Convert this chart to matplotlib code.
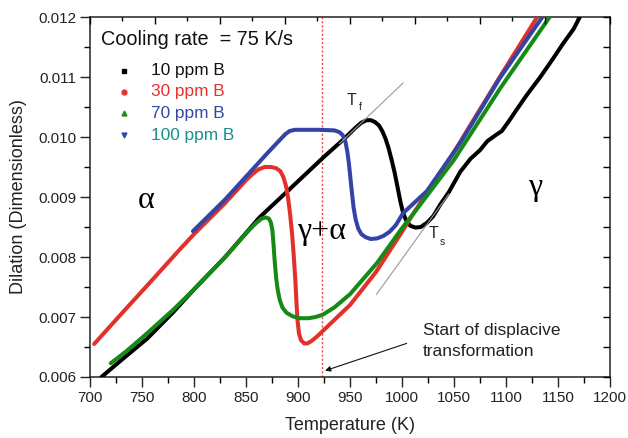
import matplotlib
matplotlib.use("Agg")
import matplotlib.pyplot as plt
from matplotlib.ticker import MultipleLocator, FormatStrFormatter
import numpy as np

plt.rcParams['font.family'] = ['Liberation Sans', 'DejaVu Sans']

# ---- data ----
T_10 = [711, 730, 755, 780, 800, 830, 863, 895, 925, 945, 955, 961, 966, 970, 974, 978,
        981, 984, 987, 990, 993, 996, 998.5, 1001, 1004, 1008, 1013, 1018, 1024, 1030,
        1037, 1045, 1056, 1066, 1075, 1082, 1090, 1096, 1103, 1110, 1120, 1133, 1145,
        1155, 1165, 1171]
D_10 = [0.00600, 0.00628, 0.00664, 0.00708, 0.00746, 0.00800, 0.00866, 0.00918, 0.00967,
        0.00998, 0.01015, 0.01024, 0.01028, 0.01028, 0.01025, 0.01019, 0.01010, 0.00998,
        0.00982, 0.00962, 0.00940, 0.00914, 0.00892, 0.00874, 0.00861, 0.00852, 0.00849,
        0.00850, 0.00857, 0.00868, 0.00888, 0.00908, 0.00942, 0.00964, 0.00978, 0.00993,
        0.01003, 0.01010, 0.01027, 0.01045, 0.01070, 0.01100, 0.01130, 0.01156, 0.01180,
        0.01200]

T_30 = [704, 730, 760, 786, 800, 830, 850, 856, 862, 868, 874, 879, 883, 886, 888.5,
        890.5, 892.5, 894.5, 896, 897.5, 898.5, 899.5, 901, 903, 906, 909, 913, 918, 924,
        950, 975, 1000, 1010, 1050, 1094, 1130]
D_30 = [0.00655, 0.00705, 0.00762, 0.00812, 0.00838, 0.00890, 0.00928, 0.00938, 0.00946,
        0.00950, 0.00950, 0.00948, 0.00943, 0.00933, 0.00918, 0.00898, 0.00870, 0.00835,
        0.00800, 0.00760, 0.00725, 0.00695, 0.00672, 0.00661, 0.00656, 0.00656, 0.00660,
        0.00667, 0.00677, 0.00720, 0.00775, 0.00842, 0.00870, 0.00975, 0.01100, 0.01200]

T_70 = [799, 830, 850, 870, 883, 888, 892, 897, 920, 935, 940, 943, 945.5, 947.5, 949,
        950.5, 952, 953.5, 955.5, 958, 961, 965, 970, 976, 982, 988, 994, 1001, 1024,
        1056, 1094, 1135]
D_70 = [0.00843, 0.00896, 0.00934, 0.00972, 0.00996, 0.01005, 0.01010, 0.01012, 0.01012,
        0.01011, 0.01008, 0.01003, 0.00993, 0.00975, 0.00955, 0.00930, 0.00905, 0.00882,
        0.00862, 0.00847, 0.00838, 0.00833, 0.00830, 0.00831, 0.00835, 0.00842, 0.00853,
        0.00873, 0.00910, 0.00990, 0.01098, 0.01200]

T_100 = [720, 735, 755, 780, 800, 830, 853, 860, 865, 869, 872, 874, 875.5, 876.5, 877.5,
         879, 880.5, 882.5, 885, 889, 895, 902, 910, 917, 924, 935, 950, 976, 1000, 1010,
         1050, 1094, 1142]
D_100 = [0.00623, 0.00643, 0.00673, 0.00712, 0.00746, 0.00800, 0.00845, 0.00857, 0.00864,
         0.00866, 0.00864, 0.00857, 0.00843, 0.00820, 0.00795, 0.00765, 0.00745, 0.00728,
         0.00716, 0.00707, 0.00701, 0.00698, 0.00698, 0.00700, 0.00704, 0.00716, 0.00738,
         0.00790, 0.00848, 0.00870, 0.00962, 0.01080, 0.01200]

tf_T = [940, 1001]
tf_D = [0.00989, 0.01090]
ts_T = [975.6, 1045]
ts_D = [0.00738, 0.00905]
T_start = 923.5

legend_labels = ['10 ppm B', '30 ppm B', '70 ppm B', '100 ppm B']
legend_text_colors = ['#111111', '#e8302a', '#3546a6', '#178f8c']
legend_marker_colors = ['#000000', '#e8302a', '#1a8a1a', '#3546a6']
legend_markers = ['s', 'o', '^', 'v']

# ---- figure ----
fig = plt.figure(figsize=(6.28, 4.38), dpi=100)
ax = fig.add_axes([90/628, 1-377/438, 520/628, 360/438])

lw = 2.9
kw = dict(lw=lw, solid_capstyle='round', solid_joinstyle='round', zorder=3)
ax.plot(T_10, D_10, color='#000000', **kw)
ax.plot(T_30, D_30, color='#e3302a', **kw)
ax.plot(T_70, D_70, color='#3344a6', **kw)
ax.plot(T_100, D_100, color='#168a16', **kw)

ax.plot(tf_T, tf_D, color='#9a9a9a', lw=0.8, zorder=4)
ax.plot(ts_T, ts_D, color='#9a9a9a', lw=0.8, zorder=4)
ax.axvline(T_start, color='#ee4444', lw=1.0, ls=(0, (1.5, 1.5)), zorder=2)

ax.set_xlim(700, 1200)
ax.set_ylim(0.006, 0.012)
ax.xaxis.set_major_locator(MultipleLocator(50))
ax.xaxis.set_minor_locator(MultipleLocator(25))
ax.yaxis.set_major_locator(MultipleLocator(0.001))
ax.yaxis.set_minor_locator(MultipleLocator(0.0005))
ax.yaxis.set_major_formatter(FormatStrFormatter('%.3f'))
ax.tick_params(which='major', direction='out', length=7, width=1.0, labelsize=11,
               colors='#222222', pad=3)
ax.tick_params(which='minor', direction='out', length=4, width=1.0)
for s in ax.spines.values():
    s.set_linewidth(1.1)
    s.set_color('#222222')

# top and right mirrored ticks (inward)
axt = ax.twiny()
axt.set_xlim(700, 1200)
axt.set_xticks(np.arange(700, 1200.1, 62.5))
axt.set_xticks(np.arange(700, 1200.1, 31.25), minor=True)
axt.tick_params(which='major', direction='in', length=5, width=1.0, labeltop=False)
axt.tick_params(which='minor', direction='in', length=3, width=1.0)
axr = ax.twinx()
axr.set_ylim(0.006, 0.012)
axr.set_yticks(np.arange(0.006, 0.01201, 0.0005))
axr.tick_params(which='major', direction='in', length=5, width=1.0, labelright=False)
for a in (axt, axr):
    for s in a.spines.values():
        s.set_visible(False)

ax.set_xlabel('Temperature (K)', fontsize=13, color='#222222', labelpad=9)
ax.set_ylabel('Dilation (Dimensionless)', fontsize=13, color='#222222', labelpad=8)

# legend-like block
ax.text(711, 0.011617, 'Cooling rate  = 75 K/s', fontsize=14.3, va='center', ha='left',
        color='#111111')
leg_D = [0.011105, 0.010755, 0.010395, 0.010033]
for lab, tc, mc, mk, d in zip(legend_labels, legend_text_colors, legend_marker_colors,
                              legend_markers, leg_D):
    ax.plot([733], [d], marker=mk, color=mc, ms=3.5, ls='none', zorder=5)
    ax.text(758.7, d, lab, fontsize=12.4, va='center', ha='left', color=tc)

serif = ['Liberation Serif', 'DejaVu Serif']
ax.text(746, 0.00882, 'α', fontsize=23, family=serif, va='baseline', ha='left')
ax.text(898.7, 0.00830, 'γ+α', fontsize=23, family=serif, va='baseline', ha='left')
ax.text(1128.4, 0.00903, 'γ', fontsize=23, family=serif, va='baseline', ha='center')

ax.text(946.8, 0.010533, 'T', fontsize=11.5, va='baseline', ha='left', color='#222222')
ax.text(958.2, 0.01045, 'f', fontsize=7.5, va='baseline', ha='left', color='#222222')
ax.text(1025.3, 0.008312, 'T', fontsize=11.5, va='baseline', ha='left', color='#222222')
ax.text(1036.5, 0.00820, 's', fontsize=7.5, va='baseline', ha='left', color='#222222')

ax.annotate('', xy=(926, 0.006105), xytext=(1004.5, 0.00656),
            arrowprops=dict(arrowstyle='-|>', lw=0.8, color='#111111', mutation_scale=8,
                            shrinkA=0, shrinkB=0))
ax.text(1019.9, 0.00678, 'Start of displacive', fontsize=12.5, va='center', ha='left',
        color='#222222')
ax.text(1019.9, 0.00643, 'transformation', fontsize=12.5, va='center', ha='left',
        color='#222222')

fig.savefig('out.png', dpi=100)
